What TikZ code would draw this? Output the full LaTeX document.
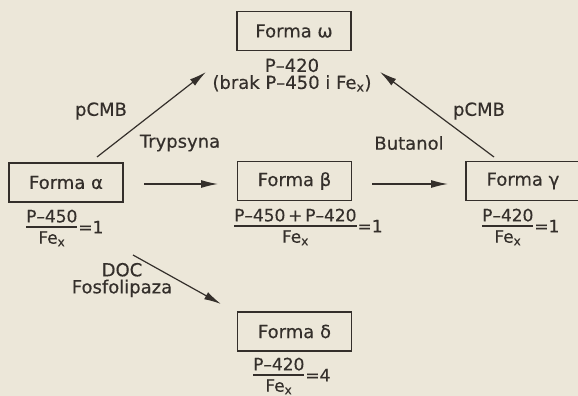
\documentclass[tikz,border=0pt]{standalone}
\usepackage{fontspec}
\setmainfont{DejaVu Sans}[FakeBold=0.4]
\usetikzlibrary{arrows.meta}
\definecolor{paper}{RGB}{236,231,217}
\definecolor{ink}{RGB}{52,47,43}
\newcommand\frc[3]{\begin{tabular}{@{}c@{}}#1\\[-2pt]\noalign{\hrule height 1.3pt}\rule{0pt}{16pt}#2\end{tabular}\hspace{1pt}#3}
\begin{document}
\begin{tikzpicture}[x=1pt,y=-1pt,
  every node/.style={text=ink,font=\fontsize{18}{21}\selectfont},
  box/.style={draw=ink,line width=1.4pt,minimum width=114pt,minimum height=39pt,inner sep=0pt},
  lbl/.style={inner sep=0pt},
  fr/.style={inner sep=0pt,anchor=west,font=\fontsize{17}{20}\selectfont},
  arr/.style={draw=ink,line width=1.2pt,-{Latex[length=17pt,width=8pt]}}]
\fill[paper] (0,0) rectangle (578,396);
\useasboundingbox (0,0) rectangle (578,396);
\begin{scope}
\clip (0,0) rectangle (578,396);
% boxes
\node[box] (omega) at (294,31) {Forma ω};
\node[box] (alpha) at (66,182.5) {Forma α};
\node[box] (beta) at (294.5,181) {Forma β};
\node[box] (gamma) at (523,181) {Forma γ};
\node[box] (delta) at (294.5,331.5) {Forma δ};
% texts
\node[lbl,align=center] (omegainfo) at (292,75) {P–420\\[-4pt](brak P–450 i Fe\textsubscript{x})};
\node[lbl] (pcmbL) at (101,111) {pCMB};
\node[lbl] (pcmbR) at (479,111) {pCMB};
\node[lbl] (tryp) at (180,143) {Trypsyna};
\node[lbl] (buta) at (409,143) {Butanol};
\node[lbl,align=center] (doc) at (122,280) {DOC\\[-4pt]Fosfolipaza};
% fractions
\node[fr] (fa) at (26,229) {\frc{P–450}{Fe\textsubscript{x}}{=1}};
\node[fr] (fb) at (234,228) {\frc{P–450\,+\,P–420}{Fe\textsubscript{x}}{=1}};
\node[fr] (fg) at (482,228) {\frc{P–420}{Fe\textsubscript{x}}{=1}};
\node[fr] (fd) at (253,377) {\frc{P–420}{Fe\textsubscript{x}}{=4}};
% arrow ends
\coordinate (a1s) at (97,157);  \coordinate (a1e) at (206,72);
\coordinate (a2s) at (494,157); \coordinate (a2e) at (380,72);
\coordinate (a3s) at (144,184); \coordinate (a3e) at (218,184);
\coordinate (a4s) at (372,184); \coordinate (a4e) at (448,184);
\coordinate (a5s) at (133,255); \coordinate (a5e) at (221,304);
\draw[arr] (a1s) -- (a1e);
\draw[arr] (a2s) -- (a2e);
\draw[arr] (a3s) -- (a3e);
\draw[arr] (a4s) -- (a4e);
\draw[arr] (a5s) -- (a5e);
\end{scope}
\end{tikzpicture}
\end{document}
